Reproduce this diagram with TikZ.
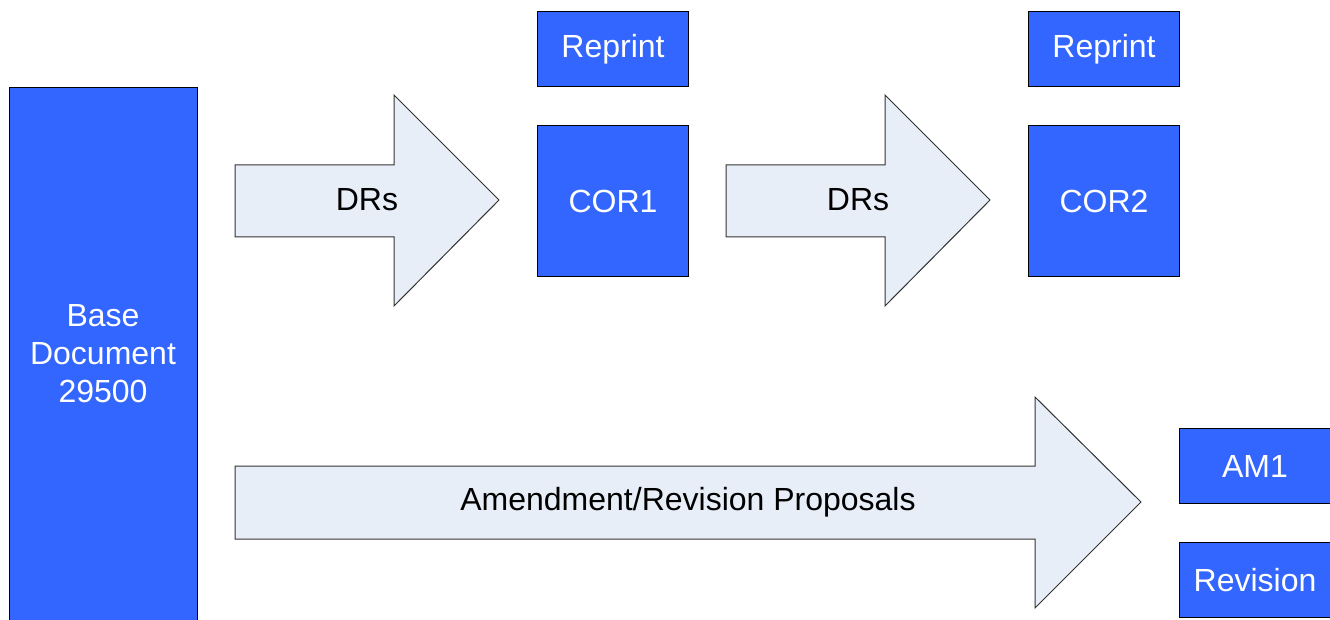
\documentclass[tikz,border=0pt]{standalone}
\usepackage{fontspec}
\setmainfont{Liberation Sans}
\usetikzlibrary{positioning}
\definecolor{DocBlue}{RGB}{51, 102, 255}
\definecolor{ArrowFill}{RGB}{232, 238, 247}
\definecolor{ArrowLine}{RGB}{51, 51, 51}

\begin{document}
\begin{tikzpicture}[
    x=1pt, y=-1pt,
    % --- STYLES ---
    % Base: thin black border, large sans font
    base/.style={
        draw=black,
        line width=1pt,
        align=center,
        font=\fontsize{32}{38}\selectfont,
        inner sep=0pt
    },
    % Document boxes: blue fill, white text
    docbox/.style={
        base,
        rectangle,
        fill=DocBlue,
        text=white,
        minimum width=151pt,
        minimum height=75pt
    },
    % Square boxes for the corrigenda
    corbox/.style={
        docbox,
        minimum height=151pt
    },
    % Block arrows: light fill, dark grey outline
    blockarrow/.style={
        draw=ArrowLine,
        line width=1pt,
        fill=ArrowFill
    },
    % Text sitting on a block arrow
    arrowtext/.style={
        font=\fontsize{32}{38}\selectfont,
        text=black,
        inner sep=0pt
    }
]
\useasboundingbox (0,0) rectangle (1330,620);
\clip (0,0) rectangle (1330,620);

% --- 1. BASE DOCUMENT ---
\node (base) [docbox, minimum width=188pt, minimum height=560pt, anchor=north west] at (9,87) {};
\node (basetext) [arrowtext, text=white, align=center] at (103,354) {Base\\Document\\29500};

% --- 2. CORRIGENDA ---
\node (cor1) [corbox, anchor=north west] at (537,125) {COR1};
\node (reprint1) [docbox, above=38pt of cor1] {Reprint};
\node (cor2) [corbox, anchor=north west] at (1028,125) {COR2};
\node (reprint2) [docbox, above=38pt of cor2] {Reprint};

% --- 3. AMENDMENT / REVISION ---
\node (am1) [docbox, anchor=north west] at (1179,428) {AM1};
\node (revision) [docbox, below=38pt of am1] {Revision};

% --- BLOCK ARROWS ---
\draw [blockarrow] (235,165) -- (394,165) -- (394,95) -- (499,200) -- (394,306) -- (394,237) -- (235,237) -- cycle;
\node (drs1) [arrowtext] at (367,200) {DRs};

\draw [blockarrow] (726,165) -- (885,165) -- (885,95) -- (990,200) -- (885,306) -- (885,237) -- (726,237) -- cycle;
\node (drs2) [arrowtext] at (858,200) {DRs};

\draw [blockarrow] (235,466) -- (1035,466) -- (1035,397) -- (1141,502) -- (1035,608) -- (1035,539) -- (235,539) -- cycle;
\node (proposals) [arrowtext] at (688,502) {Amendment/Revision Proposals};

\end{tikzpicture}
\end{document}
